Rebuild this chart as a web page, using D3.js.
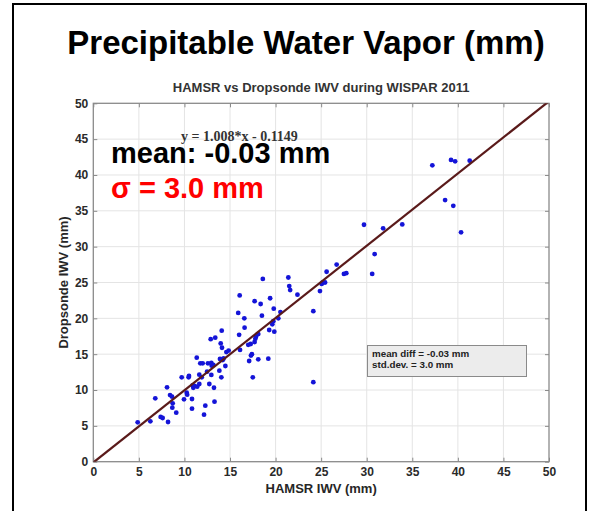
<!DOCTYPE html>
<html>
<head>
<meta charset="utf-8">
<script src="https://cdn.jsdelivr.net/npm/d3@7"></script>
<style>
  html, body { margin: 0; padding: 0; background: #fff; }
  svg { display: block; font-family: "Liberation Sans", Arial, sans-serif; }
</style>
</head>
<body>
<svg id="chart" width="593" height="511"></svg>
<script>
// HAMSR retrievals (x) against dropsonde integrated water vapour (y), mm
const hamsr = [
  4.87, 6.26, 6.8, 7.39, 7.61, 8.09, 8.2, 8.42, 8.64, 8.71, 8.67, 9.1, 9.7, 9.95,
  10.25, 10.3, 10.46, 10.5, 10.83, 10.83, 10.9, 10.97, 11.1, 11.35, 11.4, 11.63,
  11.63, 11.74, 11.9, 12.0, 12.15, 12.29, 12.48, 12.58, 12.73, 12.88, 12.95, 12.95,
  12.99, 13.17, 13.24, 13.3, 13.38, 13.83, 13.9, 13.98, 14.05, 14.09, 14.12, 14.2,
  14.3, 14.49, 14.6, 14.85, 15.9, 16.06, 16.0, 16.1, 16.57, 16.6, 17.0, 17.27, 17.4,
  17.3, 17.1, 17.5, 17.7, 17.78, 17.85, 17.7, 18.1, 18.1, 18.36, 18.5, 18.6, 19.2,
  19.3, 19.4, 19.64, 19.75, 19.8, 19.86, 20.3, 20.53, 21.4, 21.5, 21.6, 22.4, 24.14,
  24.14, 24.87, 25.06, 25.17, 25.43, 25.6, 26.7, 27.5, 27.76, 29.7, 30.6, 30.87,
  31.8, 33.9, 37.2, 38.6, 39.25, 39.5, 39.7, 40.35, 41.3
];
const dropsonde = [
  5.5, 5.63, 8.84, 6.24, 6.1, 10.38, 5.54, 9.3, 9.07, 8.14, 7.53, 6.84, 11.77, 8.7,
  9.63, 9.35, 11.77, 11.96, 8.75, 7.4, 10.66, 10.32, 10.56, 14.51, 10.47, 10.84,
  12.14, 13.72, 11.77, 13.72, 6.56, 7.82, 12.56, 13.72, 10.84, 17.1, 13.8, 12.1,
  13.4, 13.5, 10.32, 8.37, 17.3, 12.7, 14.33, 16.5, 11.77, 18.28, 15.9, 14.19,
  14.4, 13.35, 15.3, 15.5, 20.75, 23.2, 17.7, 15.6, 20.0, 18.7, 16.3, 16.42, 15.0,
  14.8, 14.05, 11.77, 16.7, 17.16, 17.44, 22.4, 17.8, 14.28, 22.0, 20.37, 25.5, 14.37,
  18.37, 22.8, 19.16, 19.6, 21.35, 18.14, 20.0, 20.88, 25.7, 24.5, 23.95, 23.3, 21.0,
  11.1, 23.8, 24.8, 24.98, 25.0, 26.5, 27.5, 26.2, 26.3, 33.06, 26.2, 28.97,
  32.56, 33.1, 41.35, 36.5, 42.1, 35.7, 41.9, 32.0, 42.0
];

const xTicks = [0, 5, 10, 15, 20, 25, 30, 35, 40, 45, 50];
const yTicks = [0, 5, 10, 15, 20, 25, 30, 35, 40, 45, 50];

// Linear fit and summary statistics
const fitSlope = 1.008;
const fitIntercept = -0.1149;
const meanDiff = -0.03;
const stdDev = 3.0;

const SANS = "'Liberation Sans', Arial, Helvetica, sans-serif";
const SERIF = "'Liberation Serif', 'Times New Roman', serif";

const svg = d3.select("#chart");

// slide frame
svg.append("path")
  .attr("d", "M13,515 L13,4 L586,4 L586,515")
  .attr("fill", "none").attr("stroke", "#000").attr("stroke-width", 2);

svg.append("text")
  .attr("x", 306).attr("y", 54)
  .attr("text-anchor", "middle")
  .style("font-family", SANS)
  .attr("font-size", 33).attr("font-weight", "bold").attr("fill", "#000")
  .text("Precipitable Water Vapor (mm)");

const plot = { left: 93.3, right: 549, top: 103.3, bottom: 461.7 };

const x = d3.scaleLinear().domain([0, 50]).range([plot.left, plot.right]);
const y = d3.scaleLinear().domain([0, 50]).range([plot.bottom, plot.top]);

svg.append("text")
  .attr("x", (plot.left + plot.right) / 2).attr("y", 92)
  .attr("text-anchor", "middle")
  .style("font-family", SANS)
  .attr("font-size", 13).attr("font-weight", "bold").attr("fill", "#333")
  .text("HAMSR vs Dropsonde IWV during WISPAR 2011");

svg.append("defs").append("clipPath").attr("id", "plotClip")
  .append("rect")
  .attr("x", plot.left).attr("y", plot.top)
  .attr("width", plot.right - plot.left).attr("height", plot.bottom - plot.top);

// grid
const grid = svg.append("g");
grid.selectAll("line.gx").data(xTicks.slice(1, -1)).join("line")
  .attr("x1", d => x(d)).attr("x2", d => x(d))
  .attr("y1", plot.top).attr("y2", plot.bottom)
  .attr("stroke", "#e4e4e4").attr("stroke-width", 1);
grid.selectAll("line.gy").data(yTicks.slice(1, -1)).join("line")
  .attr("y1", d => y(d)).attr("y2", d => y(d))
  .attr("x1", plot.left).attr("x2", plot.right)
  .attr("stroke", "#e4e4e4").attr("stroke-width", 1);

// axes
const tickStyle = g => {
  g.select(".domain").remove();
  g.selectAll(".tick line").attr("stroke", "#8a8a8a");
  g.selectAll(".tick text")
    .attr("fill", "#2a2a2a").attr("font-size", 12).attr("font-weight", "bold")
    .style("font-family", SANS);
};
svg.append("g").attr("transform", `translate(0,${plot.bottom})`)
  .call(d3.axisBottom(x).tickValues(xTicks).tickSizeInner(-4).tickSizeOuter(0).tickPadding(6))
  .call(tickStyle);
svg.append("g").attr("transform", `translate(${plot.left},0)`)
  .call(d3.axisLeft(y).tickValues(yTicks).tickSizeInner(-4).tickSizeOuter(0).tickPadding(5))
  .call(tickStyle);
svg.append("g").attr("transform", `translate(0,${plot.top})`)
  .call(d3.axisTop(x).tickValues(xTicks).tickSizeInner(-4).tickSizeOuter(0).tickFormat(""))
  .call(tickStyle);
svg.append("g").attr("transform", `translate(${plot.right},0)`)
  .call(d3.axisRight(y).tickValues(yTicks).tickSizeInner(-4).tickSizeOuter(0).tickFormat(""))
  .call(tickStyle);

svg.append("rect")
  .attr("x", plot.left).attr("y", plot.top)
  .attr("width", plot.right - plot.left).attr("height", plot.bottom - plot.top)
  .attr("fill", "none").attr("stroke", "#8a8a8a").attr("stroke-width", 1.3);

// points
svg.append("g").selectAll("circle")
  .data(hamsr.map((h, i) => [h, dropsonde[i]]))
  .join("circle")
  .attr("cx", d => x(d[0])).attr("cy", d => y(d[1]))
  .attr("r", 2.4).attr("fill", "#1414d8");

// fit line
svg.append("line")
  .attr("clip-path", "url(#plotClip)")
  .attr("x1", x(0)).attr("y1", y(fitIntercept))
  .attr("x2", x(50)).attr("y2", y(fitSlope * 50 + fitIntercept))
  .attr("stroke", "#5a1a1a").attr("stroke-width", 2.2);

// axis labels
svg.append("text")
  .attr("x", (plot.left + plot.right) / 2).attr("y", 493)
  .attr("text-anchor", "middle")
  .style("font-family", SANS)
  .attr("font-size", 13).attr("font-weight", "bold").attr("fill", "#262626")
  .text("HAMSR IWV (mm)");
svg.append("text")
  .attr("transform", `translate(68,${(plot.top + plot.bottom) / 2}) rotate(-90)`)
  .attr("text-anchor", "middle")
  .style("font-family", SANS)
  .attr("font-size", 13).attr("font-weight", "bold").attr("fill", "#262626")
  .text("Dropsonde IWV (mm)");

// fit equation
svg.append("text")
  .attr("x", 181).attr("y", 141)
  .style("font-family", SERIF)
  .attr("font-size", 14).attr("font-weight", "bold").attr("fill", "#333")
  .text(`y = ${fitSlope.toFixed(3)}*x - ${Math.abs(fitIntercept).toFixed(4)}`);

// summary overlay
svg.append("text")
  .attr("x", 111).attr("y", 163)
  .style("font-family", SANS)
  .attr("font-size", 29).attr("font-weight", "bold").attr("fill", "#000")
  .text(`mean: ${meanDiff.toFixed(2)} mm`);
svg.append("text")
  .attr("x", 111).attr("y", 198)
  .style("font-family", SANS)
  .attr("font-size", 29).attr("font-weight", "bold").attr("fill", "#ff0000")
  .text(`σ = ${stdDev.toFixed(1)} mm`);

// statistics box
const box = svg.append("g");
box.append("rect")
  .attr("x", 367.5).attr("y", 345.5).attr("width", 159).attr("height", 31)
  .attr("fill", "#ececec").attr("stroke", "#8a8a8a").attr("stroke-width", 1);
box.append("text")
  .attr("x", 372).attr("y", 357)
  .style("font-family", SANS)
  .attr("font-size", 9.8).attr("font-weight", "bold").attr("fill", "#222")
  .text(`mean diff = ${meanDiff.toFixed(2)} mm`);
box.append("text")
  .attr("x", 372).attr("y", 367.5)
  .style("font-family", SANS)
  .attr("font-size", 9.8).attr("font-weight", "bold").attr("fill", "#222")
  .text(`std.dev. = ${stdDev.toFixed(1)} mm`);
</script>
</body>
</html>
